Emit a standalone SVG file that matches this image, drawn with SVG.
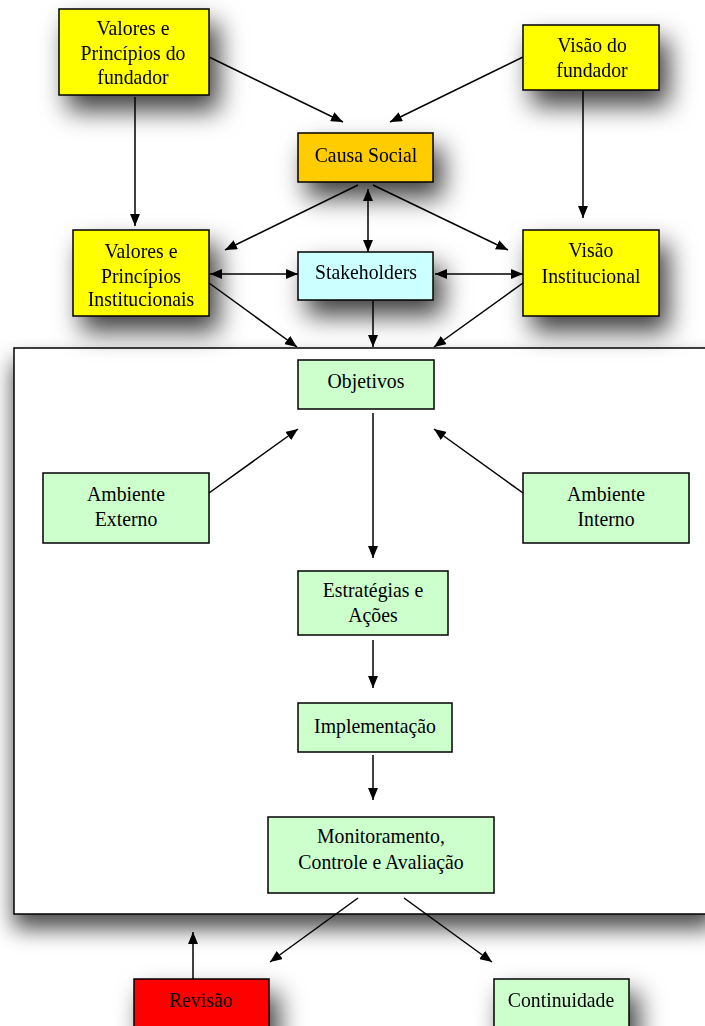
<svg xmlns="http://www.w3.org/2000/svg" width="705" height="1026" viewBox="0 0 705 1026">
<defs>
<filter id="sh" x="-50%" y="-50%" width="220%" height="250%">
<feDropShadow dx="9" dy="15" stdDeviation="13" flood-color="#000" flood-opacity="0.75"/>
</filter>
<filter id="shc" x="-10%" y="-10%" width="130%" height="130%">
<feDropShadow dx="0" dy="14" stdDeviation="11" flood-color="#000" flood-opacity="0.7"/>
</filter>
<marker id="ah" viewBox="0 0 12 10" refX="12" refY="5" markerWidth="12" markerHeight="10" markerUnits="userSpaceOnUse" orient="auto-start-reverse">
<path d="M0,0 L12,5 L0,10 z" fill="#000"/>
</marker>
<style>
.b{stroke:#000;stroke-width:1.5}
.y{fill:#FFFF00}.o{fill:#FFCC00}.c{fill:#CCFFFF}.g{fill:#CCFFCC}.r{fill:#FF0000}
text{font-family:"Liberation Serif","Times New Roman",serif;font-size:21.5px;fill:#000;text-anchor:middle;transform-box:fill-box;transform-origin:center;transform:scaleX(0.92)}
.l{stroke:#000;stroke-width:1.5;fill:none;marker-end:url(#ah)}
.d{marker-start:url(#ah)}
</style>
</defs>
<rect width="705" height="1026" fill="#fff"/>
<g id="container"><rect x="14" y="348" width="700" height="566" fill="#fff" class="b" filter="url(#shc)"/></g>

<g id="n-valores-fundador" filter="url(#sh)"><rect x="59" y="9" width="150" height="86" class="b y"/><text x="133" y="35">Valores e</text><text x="133" y="60">Princípios do</text><text x="133" y="84">fundador</text></g>
<g id="n-visao-fundador" filter="url(#sh)"><rect x="523" y="25" width="136" height="65" class="b y"/><text x="592" y="52">Visão do</text><text x="592" y="77">fundador</text></g>
<g id="n-causa" filter="url(#sh)"><rect x="298" y="133" width="135" height="49" class="b o"/><text x="366" y="162">Causa Social</text></g>
<g id="n-valores-inst" filter="url(#sh)"><rect x="73" y="230" width="136" height="86" class="b y"/><text x="141" y="258">Valores e</text><text x="141" y="283">Princípios</text><text x="141" y="306">Institucionais</text></g>
<g id="n-stakeholders" filter="url(#sh)"><rect x="298" y="252" width="135" height="48" class="b c"/><text x="366" y="279">Stakeholders</text></g>
<g id="n-visao-inst" filter="url(#sh)"><rect x="523" y="230" width="136" height="86" class="b y"/><text x="591" y="257">Visão</text><text x="591" y="283">Institucional</text></g>

<g id="n-objetivos"><rect x="298" y="360" width="136" height="49" class="b g"/><text x="366" y="388">Objetivos</text></g>
<g id="n-amb-externo"><rect x="43" y="473" width="166" height="70" class="b g"/><text x="126" y="501">Ambiente</text><text x="126" y="526">Externo</text></g>
<g id="n-amb-interno"><rect x="523" y="473" width="166" height="70" class="b g"/><text x="606" y="501">Ambiente</text><text x="606" y="526">Interno</text></g>
<g id="n-estrategias"><rect x="298" y="571" width="150" height="64" class="b g"/><text x="373" y="597">Estratégias e</text><text x="373" y="622">Ações</text></g>
<g id="n-implementacao"><rect x="298" y="703" width="154" height="49" class="b g"/><text x="375" y="733">Implementação</text></g>
<g id="n-monitoramento"><rect x="268" y="817" width="226" height="76" class="b g"/><text x="381" y="843">Monitoramento,</text><text x="381" y="869">Controle e Avaliação</text></g>

<g id="n-revisao" filter="url(#sh)"><rect x="134" y="979" width="135" height="60" class="b r"/><text x="201" y="1007">Revisão</text></g>
<g id="n-continuidade" filter="url(#sh)"><rect x="494" y="979" width="135" height="60" class="b g"/><text x="561" y="1007">Continuidade</text></g>

<g id="connectors">
<line x1="209" y1="57" x2="343" y2="122" class="l"/>
<line x1="523" y1="57" x2="390" y2="122" class="l"/>
<line x1="135" y1="97" x2="135" y2="226" class="l"/>
<line x1="583" y1="91" x2="583" y2="218" class="l"/>
<line x1="358" y1="185" x2="225" y2="250" class="l"/>
<line x1="373" y1="185" x2="508" y2="250" class="l"/>
<line x1="368" y1="189" x2="368" y2="252" class="l d"/>
<line x1="210" y1="274" x2="298" y2="274" class="l d"/>
<line x1="435" y1="274" x2="523" y2="274" class="l d"/>
<line x1="209" y1="283" x2="297" y2="347" class="l"/>
<line x1="373" y1="301" x2="373" y2="347" class="l"/>
<line x1="523" y1="283" x2="434" y2="347" class="l"/>
<line x1="209" y1="493" x2="298" y2="429" class="l"/>
<line x1="523" y1="493" x2="434" y2="429" class="l"/>
<line x1="373" y1="413" x2="373" y2="558" class="l"/>
<line x1="373" y1="640" x2="373" y2="688" class="l"/>
<line x1="373" y1="755" x2="373" y2="800" class="l"/>
<line x1="358" y1="898" x2="270" y2="962" class="l"/>
<line x1="404" y1="898" x2="492" y2="962" class="l"/>
<line x1="193" y1="979" x2="193" y2="932" class="l"/>
</g>
</svg>
